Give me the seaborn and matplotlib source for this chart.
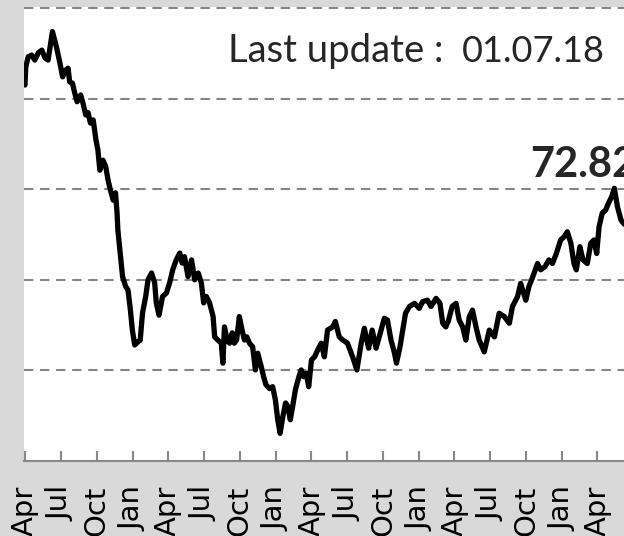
import matplotlib
matplotlib.use('Agg')
import matplotlib.pyplot as plt
import pandas as pd
import seaborn as sns

# price series (roughly weekly)
dates = [
    "2014-04-01", "2014-04-03", "2014-04-09", "2014-04-18", "2014-04-26", "2014-05-05",
    "2014-05-14", "2014-05-22", "2014-05-30", "2014-06-10", "2014-06-20", "2014-06-29",
    "2014-07-06", "2014-07-14", "2014-07-20", "2014-07-24", "2014-07-31", "2014-08-06",
    "2014-08-12", "2014-08-21", "2014-08-27", "2014-09-03", "2014-09-09", "2014-09-15",
    "2014-09-22", "2014-09-29", "2014-10-04", "2014-10-09", "2014-10-17", "2014-10-24",
    "2014-10-30", "2014-11-05", "2014-11-12", "2014-11-18", "2014-11-22", "2014-11-24",
    "2014-11-30", "2014-12-06", "2014-12-14", "2014-12-20", "2014-12-26", "2014-12-31",
    "2015-01-06", "2015-01-14", "2015-01-20", "2015-01-26", "2015-02-03", "2015-02-09",
    "2015-02-18", "2015-02-26", "2015-03-02", "2015-03-09", "2015-03-18", "2015-03-28",
    "2015-04-05", "2015-04-13", "2015-04-22", "2015-05-01", "2015-05-07", "2015-05-13",
    "2015-05-22", "2015-05-31", "2015-06-08", "2015-06-17", "2015-06-25", "2015-07-01",
    "2015-07-08", "2015-07-16", "2015-07-25", "2015-07-29", "2015-08-06", "2015-08-15",
    "2015-08-19", "2015-08-23", "2015-08-30", "2015-09-05", "2015-09-12", "2015-09-17",
    "2015-09-23", "2015-09-30", "2015-10-07", "2015-10-13", "2015-10-19", "2015-10-26",
    "2015-11-03", "2015-11-10", "2015-11-16", "2015-11-25", "2015-12-01", "2015-12-07",
    "2015-12-16", "2015-12-24", "2015-12-31", "2016-01-06", "2016-01-12", "2016-01-19",
    "2016-01-26", "2016-02-01", "2016-02-07", "2016-02-13", "2016-02-20", "2016-02-29",
    "2016-03-06", "2016-03-12", "2016-03-19", "2016-03-25", "2016-04-01", "2016-04-09",
    "2016-04-17", "2016-04-26", "2016-05-04", "2016-05-12", "2016-05-25", "2016-06-01",
    "2016-06-11", "2016-06-20", "2016-07-02", "2016-07-15", "2016-07-26", "2016-08-06",
    "2016-08-14", "2016-08-25", "2016-09-03", "2016-09-13", "2016-09-21", "2016-10-04",
    "2016-10-12", "2016-10-21", "2016-10-30", "2016-11-04", "2016-11-13", "2016-11-20",
    "2016-11-27", "2016-12-07", "2016-12-20", "2017-01-01", "2017-01-10", "2017-01-22",
    "2017-01-31", "2017-02-13", "2017-02-23", "2017-03-02", "2017-03-10", "2017-03-17",
    "2017-03-26", "2017-04-05", "2017-04-13", "2017-04-22", "2017-04-30", "2017-05-09",
    "2017-05-17", "2017-05-26", "2017-06-03", "2017-06-16", "2017-06-29", "2017-07-12",
    "2017-07-24", "2017-08-06", "2017-08-19", "2017-08-27", "2017-09-09", "2017-09-17",
    "2017-09-30", "2017-10-08", "2017-10-18", "2017-10-30", "2017-11-07", "2017-11-18",
    "2017-11-28", "2017-12-07", "2017-12-17", "2017-12-28", "2018-01-06", "2018-01-14",
    "2018-01-23", "2018-01-31", "2018-02-06", "2018-02-15", "2018-02-23", "2018-03-06",
    "2018-03-15", "2018-03-23", "2018-03-30", "2018-04-05", "2018-04-13", "2018-04-22",
    "2018-04-29", "2018-05-07", "2018-05-14", "2018-05-22", "2018-05-31", "2018-06-06",
    "2018-06-18", "2018-06-29",
]
prices = [
    103.0, 107.0, 109.2, 109.6, 108.5, 110.1,
    110.7, 109.0, 108.5, 114.8, 111.5, 107.9,
    104.8, 106.3, 106.7, 103.7, 103.4, 101.2,
    99.3, 100.8, 99.0, 96.4, 96.9, 94.6,
    95.3, 90.9, 88.7, 84.2, 86.4, 85.0,
    82.0, 79.8, 77.6, 79.2, 74.7, 71.0,
    65.9, 60.7, 58.5, 57.7, 53.3, 48.9,
    45.6, 46.3, 46.7, 52.7, 56.3, 60.0,
    61.5, 59.3, 54.9, 52.2, 56.3, 57.1,
    59.3, 62.2, 64.4, 65.9, 63.7, 65.1,
    60.7, 64.4, 60.0, 61.5, 59.3, 54.9,
    56.3, 54.9, 51.9, 47.4, 46.7, 46.0,
    41.6, 49.6, 46.7, 46.0, 48.3, 46.0,
    46.7, 51.9, 48.9, 46.7, 47.4, 46.0,
    45.2, 40.1, 43.8, 40.8, 38.6, 36.8,
    36.0, 36.4, 33.5, 29.1, 26.1, 29.8,
    32.8, 32.0, 29.1, 32.0, 35.7, 38.6,
    40.1, 38.6, 39.4, 36.4, 42.3, 43.0,
    44.5, 46.0, 43.0, 48.9, 49.6, 50.8,
    47.4, 46.7, 46.0, 43.0, 40.1, 46.0,
    49.3, 44.9, 48.9, 44.9, 47.4, 51.5,
    51.1, 46.7, 43.8, 41.6, 45.2, 48.9,
    52.6, 54.1, 54.8, 53.7, 55.2, 55.5,
    54.1, 55.9, 54.8, 50.4, 49.6, 51.1,
    54.1, 54.8, 51.1, 49.6, 46.7, 51.9,
    53.3, 49.6, 46.7, 44.1, 48.9, 47.4,
    52.6, 51.9, 50.4, 54.1, 56.3, 59.2,
    55.5, 58.5, 60.7, 63.6, 62.2, 62.9,
    64.4, 63.6, 65.8, 68.8, 69.5, 70.6,
    68.1, 63.6, 62.2, 67.3, 64.4, 63.6,
    68.1, 68.8, 65.8, 71.7, 74.7, 75.4,
    76.9, 78.3, 80.2, 76.1, 73.2, 72.5,
    71.6, 72.82,
]

tick_dates = [
    "2014-04-01", "2014-07-01", "2014-10-01", "2015-01-01", "2015-04-01", "2015-07-01",
    "2015-10-01", "2016-01-01", "2016-04-01", "2016-07-01", "2016-10-01", "2017-01-01",
    "2017-04-01", "2017-07-01", "2017-10-01", "2018-01-01", "2018-04-01",
]
tick_labels = [
    "Apr", "Jul", "Oct", "Jan", "Apr", "Jul", "Oct", "Jan", "Apr",
    "Jul", "Oct", "Jan", "Apr", "Jul", "Oct", "Jan", "Apr",
]
grid_values = [40, 60, 80, 100, 120]
last_update = "01.07.18"
last_value = "72.82"

df = pd.DataFrame({"date": pd.to_datetime(dates), "price": prices})

sns.set_style("white")
plt.rcParams['font.family'] = ['DejaVu Sans']

fig = plt.figure(figsize=(6.24, 5.36), dpi=100, facecolor='#d9d9d9')
# the chart is cut on the right, so the axes runs past the figure edge
ax = fig.add_axes([24 / 624, 75 / 536, 626 / 624, 454 / 536])
ax.set_facecolor('white')

sns.lineplot(data=df, x="date", y="price", ax=ax, color='black',
             linewidth=3.8, solid_joinstyle='round', solid_capstyle='round')

ax.set_xlim(pd.Timestamp("2014-03-29 11:00"), pd.Timestamp("2018-08-13"))
ax.set_ylim(20, 120.22)
ax.set_yticks(grid_values)
ax.set_axisbelow(True)
ax.yaxis.grid(True, color='#858585', linestyle=(0, (4.5, 3.2)), linewidth=1.5)
ax.xaxis.grid(False)

ax.set_xticks(pd.to_datetime(tick_dates))
ax.set_xticklabels(tick_labels)
ax.tick_params(axis='x', bottom=True, direction='in', length=7, width=1.5,
               color='#888888', pad=18, labelsize=21, labelrotation=90,
               labelcolor='black')
ax.tick_params(axis='y', left=False, labelleft=False)
ax.set_xlabel("")
ax.set_ylabel("")

for side in ['top', 'left', 'right']:
    ax.spines[side].set_visible(False)
ax.spines['bottom'].set_color('#888888')
ax.spines['bottom'].set_linewidth(1.5)

text_font = ['Lato', 'DejaVu Sans']
fig.text(228 / 624, 1 - 62 / 536, "Last update :", ha='left', va='baseline',
         fontsize=27.5, family=text_font)
fig.text(605 / 624, 1 - 62 / 536, last_update, ha='right', va='baseline',
         fontsize=26, family=text_font)
fig.text(530 / 624, 1 - 177 / 536, last_value, ha='left', va='baseline',
         fontsize=30, fontweight='bold', family=text_font)

fig.savefig("out.png", dpi=100, facecolor=fig.get_facecolor())
